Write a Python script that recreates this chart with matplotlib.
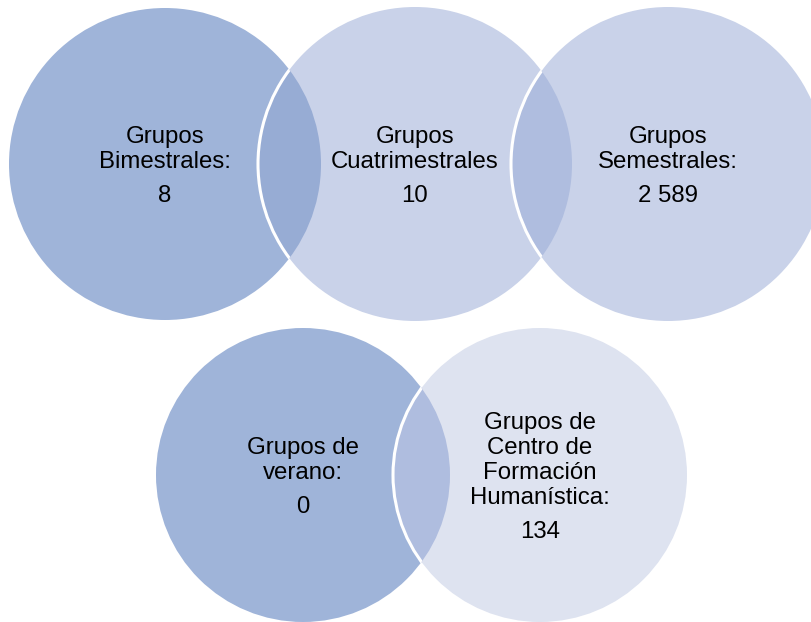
import matplotlib
matplotlib.use("Agg")
import matplotlib.pyplot as plt
from matplotlib.patches import Circle

plt.rcParams['font.family'] = ['Liberation Sans', 'DejaVu Sans']

# Data
categories = [
    ["Grupos", "Bimestrales:"],
    ["Grupos", "Cuatrimestrales"],
    ["Grupos", "Semestrales:"],
    ["Grupos de", "verano:"],
    ["Grupos de", "Centro de", "Formación", "Humanística:"],
]
values = [8, 10, 2589, 0, 134]

# Layout / style (pixel coordinates)
centers = [(165, 164), (415, 164), (668, 164), (303, 475), (540, 475)]
radii = [156, 157, 157, 147, 147]
fills = ["#9FB4D9", "#C9D2E9", "#C9D2E9", "#9FB4D9", "#DEE3F0"]
# overlapping pairs (lower, upper) and lens colours
pairs = [(0, 1), (1, 2), (3, 4)]
lens_colors = ["#97ACD4", "#AFBDDF", "#AFBDDF"]

W, H = 812, 622
fig = plt.figure(figsize=(W / 100, H / 100), dpi=100)
ax = fig.add_axes([0, 0, 1, 1])
ax.set_xlim(0, W)
ax.set_ylim(H, 0)
ax.set_aspect('equal')
ax.axis('off')

circles = []
for i, ((cx, cy), r, col) in enumerate(zip(centers, radii, fills)):
    c = Circle((cx, cy), r, facecolor=col, edgecolor='none', zorder=1 + 2 * i)
    ax.add_patch(c)
    circles.append(c)

for (a, b), lc in zip(pairs, lens_colors):
    (ax_, ay_), ra = centers[a], radii[a]
    (bx_, by_), rb = centers[b], radii[b]
    lens = Circle((ax_, ay_), ra, facecolor=lc, edgecolor='none', zorder=2 + 2 * b)
    ax.add_patch(lens)
    clip = Circle((bx_, by_), rb, transform=ax.transData)
    lens.set_clip_path(clip)
    outline = Circle((bx_, by_), rb, facecolor='none', edgecolor='white', lw=2.2,
                     zorder=3 + 2 * b)
    ax.add_patch(outline)
    clip2 = Circle((ax_, ay_), ra, transform=ax.transData)
    outline.set_clip_path(clip2)

fs = 17.3
line_sp = 25
gap = 34
cap_half = 8.5

def fmt(v):
    return f"{v:,}".replace(",", " ")

for (cx, cy), lines, v in zip(centers, categories, values):
    n = len(lines)
    total = (n - 1) * line_sp + gap
    y0 = cy - total / 2
    for k, ln in enumerate(lines):
        ax.text(cx, y0 + k * line_sp + cap_half, ln, ha='center', va='baseline',
                fontsize=fs, color='black', zorder=20)
    ax.text(cx, y0 + (n - 1) * line_sp + gap + cap_half, fmt(v), ha='center',
            va='baseline', fontsize=fs, color='black', zorder=20)

fig.savefig("out.png", dpi=100, facecolor='white')
